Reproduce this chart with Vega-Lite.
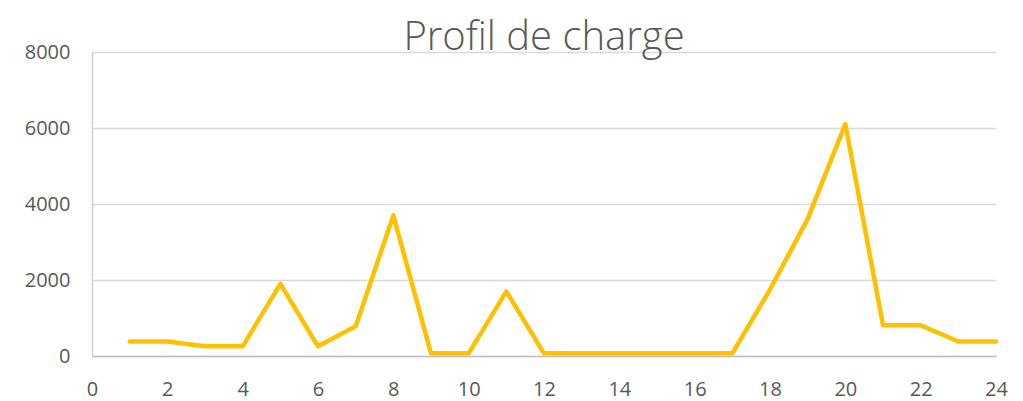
{
  "$schema": "https://vega.github.io/schema/vega-lite/v6.json",
  "width": 904,
  "height": 304,
  "autosize": {"type": "none"},
  "padding": {"left": 92, "top": 52, "right": 27, "bottom": 45},
  "background": "white",
  "title": {
    "text": "Profil de charge",
    "font": "Open Sans",
    "fontSize": 40,
    "fontWeight": 300,
    "color": "#595959",
    "anchor": "middle",
    "baseline": "alphabetic",
    "offset": -1,
    "dy": 47
  },
  "data": {
    "values": [
      {"heure": 1, "charge": 380},
      {"heure": 2, "charge": 380},
      {"heure": 3, "charge": 255},
      {"heure": 4, "charge": 255},
      {"heure": 5, "charge": 1900},
      {"heure": 6, "charge": 255},
      {"heure": 7, "charge": 780},
      {"heure": 8, "charge": 3700},
      {"heure": 9, "charge": 70},
      {"heure": 10, "charge": 70},
      {"heure": 11, "charge": 1700},
      {"heure": 12, "charge": 70},
      {"heure": 13, "charge": 70},
      {"heure": 14, "charge": 70},
      {"heure": 15, "charge": 70},
      {"heure": 16, "charge": 70},
      {"heure": 17, "charge": 70},
      {"heure": 18, "charge": 1750},
      {"heure": 19, "charge": 3610},
      {"heure": 20, "charge": 6100},
      {"heure": 21, "charge": 810},
      {"heure": 22, "charge": 810},
      {"heure": 23, "charge": 380},
      {"heure": 24, "charge": 380}
    ]
  },
  "mark": {
    "type": "line",
    "color": "#FFC000",
    "strokeWidth": 4.5,
    "strokeCap": "round",
    "strokeJoin": "round"
  },
  "encoding": {
    "x": {
      "field": "heure",
      "type": "quantitative",
      "scale": {"domain": [0, 24], "nice": false, "zero": false},
      "axis": {
        "values": [0, 2, 4, 6, 8, 10, 12, 14, 16, 18, 20, 22, 24],
        "format": "d",
        "grid": false,
        "ticks": false,
        "domainColor": "#bfbfbf",
        "domainWidth": 1.5,
        "labelFont": "Open Sans",
        "labelFontSize": 20,
        "labelColor": "#595959",
        "labelPadding": 23,
        "labelFlush": false,
        "title": null
      }
    },
    "y": {
      "field": "charge",
      "type": "quantitative",
      "scale": {"domain": [0, 8000], "nice": false},
      "axis": {
        "values": [0, 2000, 4000, 6000, 8000],
        "format": "d",
        "grid": true,
        "gridColor": "#d9d9d9",
        "gridWidth": 1.5,
        "ticks": false,
        "domainColor": "#d0d0d0",
        "domainWidth": 1.5,
        "labelFont": "Open Sans",
        "labelFontSize": 20,
        "labelColor": "#595959",
        "labelPadding": 22,
        "title": null
      }
    }
  },
  "config": {"view": {"stroke": null}}
}
